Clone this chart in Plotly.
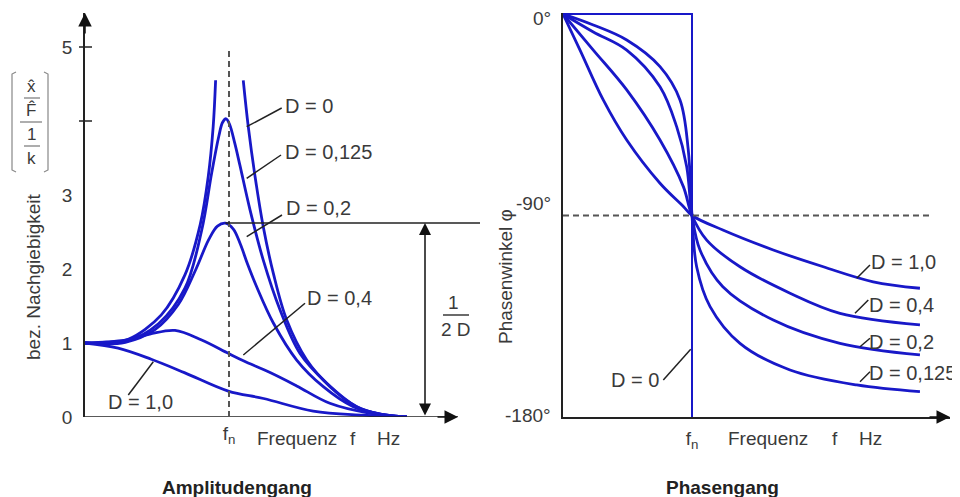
import plotly.graph_objects as go

# ---------------- data (eta = f/fn) ----------------
# Amplitudengang: bez. Nachgiebigkeit V over eta
amp_d0_left_eta = [0.0, 0.15, 0.30, 0.53, 0.694, 0.80, 0.856, 0.89, 0.907]
amp_d0_left_v = [1.0, 1.01, 1.05, 1.38, 1.92, 2.60, 3.25, 3.92, 4.55]
amp_d0_right_eta = [1.099, 1.134, 1.181, 1.238, 1.308, 1.401, 1.540, 1.701, 1.887, 2.049, 2.236]
amp_d0_right_v = [4.55, 3.92, 3.25, 2.57, 1.94, 1.31, 0.77, 0.41, 0.14, 0.04, 0.0]
amp_d0125_eta = [0.0, 0.28, 0.51, 0.694, 0.81, 0.88, 0.93, 0.955, 0.98, 1.005, 1.04, 1.076, 1.146, 1.238, 1.354, 1.493, 1.678, 1.887, 2.05, 2.236]
amp_d0125_v = [1.0, 1.02, 1.26, 1.74, 2.52, 3.30, 3.80, 3.98, 4.03, 3.95, 3.70, 3.40, 2.80, 2.12, 1.45, 0.86, 0.46, 0.14, 0.04, 0.0]
amp_d02_eta = [0.0, 0.28, 0.486, 0.648, 0.764, 0.86, 0.92, 0.975, 1.03, 1.08, 1.13, 1.192, 1.308, 1.47, 1.655, 1.863, 2.05, 2.236]
amp_d02_v = [1.0, 1.01, 1.18, 1.52, 1.97, 2.40, 2.58, 2.62, 2.54, 2.33, 2.06, 1.76, 1.27, 0.77, 0.41, 0.14, 0.04, 0.0]
amp_d04_eta = [0.0, 0.28, 0.45, 0.625, 0.81, 0.995, 1.1, 1.285, 1.47, 1.70, 1.98, 2.236]
amp_d04_v = [1.0, 1.04, 1.12, 1.17, 1.04, 0.86, 0.76, 0.60, 0.42, 0.185, 0.05, 0.0]
amp_d10_eta = [0.0, 0.23, 0.46, 0.69, 0.995, 1.24, 1.585, 1.93, 2.236]
amp_d10_v = [1.0, 0.93, 0.78, 0.60, 0.35, 0.25, 0.08, 0.025, 0.0]

# Phasengang: Phasenwinkel phi (deg) over eta
ph_d0_eta = [0.0, 1.0, 1.0]
ph_d0_phi = [0.0, 0.0, -180.0]
ph_d0125_eta = [0.0, 0.235, 0.494, 0.752, 0.907, 0.971, 1.0, 1.036, 1.14, 1.372, 1.76, 2.277, 2.767]
ph_d0125_phi = [0.0, -4.9, -11.6, -23.5, -38.4, -60.7, -90.0, -112.9, -130.7, -147.1, -159.0, -165.7, -168.7]
ph_d02_eta = [0.0, 0.235, 0.494, 0.752, 0.881, 0.959, 1.0, 1.062, 1.239, 1.63, 2.147, 2.767]
ph_d02_phi = [0.0, -8.0, -16.1, -32.5, -50.3, -68.2, -90.0, -105.4, -121.8, -136.7, -147.1, -152.3]
ph_d04_eta = [0.0, 0.235, 0.494, 0.752, 0.933, 1.0, 1.114, 1.372, 1.76, 2.147, 2.767]
ph_d04_phi = [0.0, -16.1, -33.9, -56.3, -77.1, -90.0, -101.0, -112.9, -124.7, -133.7, -138.9]
ph_d10_eta = [0.0, 0.132, 0.312, 0.494, 0.752, 0.933, 1.0, 1.239, 1.63, 2.018, 2.405, 2.767]
ph_d10_phi = [0.0, -16.1, -38.4, -56.3, -75.6, -86.0, -90.0, -96.5, -105.4, -112.9, -119.6, -122.5]

y_left_tickvals = [0, 1, 2, 3, 5]
y_left_ticktext = ["0", "1", "2", "3", "5"]
y_right_labels = ["0°", "-90°", "-180°"]

# ---------------- layout helpers ----------------
W, H = 960, 497
OFF = 8  # page body margin
def pxx(x):
    return (x - OFF) / W
def pxy(y):
    return 1 - (y - OFF) / H

FONT = "Liberation Sans, Arial, sans-serif"
TXT = "#3a3a3a"
BLUE = "#1818c8"
LW = 2.8
FS = 19

fig = go.Figure()

def curve(x, y, xa, ya, shape="spline", width=LW):
    fig.add_trace(go.Scatter(x=x, y=y, xaxis=xa, yaxis=ya, mode="lines",
                             line=dict(color=BLUE, width=width, shape=shape, smoothing=1.0),
                             hoverinfo="skip", showlegend=False))

for ex, vy in [(amp_d0_left_eta, amp_d0_left_v), (amp_d0_right_eta, amp_d0_right_v),
               (amp_d0125_eta, amp_d0125_v), (amp_d02_eta, amp_d02_v),
               (amp_d04_eta, amp_d04_v), (amp_d10_eta, amp_d10_v)]:
    curve(ex, vy, "x", "y")

curve(ph_d0_eta, ph_d0_phi, "x2", "y2", shape="linear", width=2)
for ex, ph in [(ph_d0125_eta, ph_d0125_phi), (ph_d02_eta, ph_d02_phi),
               (ph_d04_eta, ph_d04_phi), (ph_d10_eta, ph_d10_phi)]:
    curve(ex, ph, "x2", "y2")

# scales (pixels per unit)
L_X0, L_PXU = 85, 144.0
L_Y0, L_PYU = 417, 74.0
R_X0, R_PXU = 563, 129.0
R_Y0, R_PYD = 14, (417 - 14) / 180.0

left_xmax = (480 - L_X0) / L_PXU
left_xarrow = (458 - L_X0) / L_PXU
left_ymax = (L_Y0 - 13) / L_PYU
right_xmax = (950 - R_X0) / R_PXU
right_ytop = (R_Y0 - 13) / R_PYD

axis_common = dict(showgrid=False, zeroline=False, ticks="", automargin=False,
                   tickfont=dict(family=FONT, size=FS, color=TXT))

fig.update_layout(
    width=W, height=H, margin=dict(l=0, r=0, t=0, b=0, autoexpand=False),
    paper_bgcolor="white", plot_bgcolor="white", showlegend=False,
    xaxis=dict(domain=[pxx(85), pxx(480)], range=[0, left_xmax], showline=False,
               tickvals=[1], ticktext=["f<sub>n</sub>"], ticklabelstandoff=3, **axis_common),
    yaxis=dict(domain=[pxy(417), pxy(13)], range=[0, left_ymax], showline=True,
               linecolor="#222", linewidth=1.5, tickvals=y_left_tickvals,
               ticktext=y_left_ticktext, ticklabelstandoff=7, **axis_common),
    xaxis2=dict(domain=[pxx(563), pxx(950)], range=[0, right_xmax], showline=True,
                linecolor="#222", linewidth=1.5, anchor="y2",
                tickvals=[1], ticktext=["f<sub>n</sub>"], ticklabelstandoff=3, **axis_common),
    yaxis2=dict(domain=[pxy(417), pxy(13)], range=[-180, right_ytop], showline=True,
                linecolor="#222", linewidth=1.5, anchor="x2",
                showticklabels=False, **axis_common),
)

shapes = []
ann = []

def line(x0, y0, x1, y1, xref, yref, color="#222", width=1.5, dash=None):
    d = dict(type="line", x0=x0, y0=y0, x1=x1, y1=y1, xref=xref, yref=yref,
             line=dict(color=color, width=width))
    if dash:
        d["line"]["dash"] = dash
    shapes.append(d)

# left x axis line + arrows
line(0, 0, left_xarrow, 0, "x", "y", width=1.5)
ann.append(dict(x=left_xarrow, y=0, xref="x", yref="y", ax=-22, ay=0, text="",
                showarrow=True, arrowhead=2, arrowsize=1.8, arrowwidth=1.5, arrowcolor="#111"))
ann.append(dict(x=0, y=left_ymax, xref="x", yref="y", ax=0, ay=22, text="",
                showarrow=True, arrowhead=2, arrowsize=1.8, arrowwidth=1.5, arrowcolor="#111"))
ann.append(dict(x=right_xmax, y=-180, xref="x2", yref="y2", ax=-22, ay=0, text="",
                showarrow=True, arrowhead=2, arrowsize=1.8, arrowwidth=1.5, arrowcolor="#111"))

# tick marks at 4 and 5 on left y axis
for v in [4, 5]:
    line(pxx(79), v, pxx(92), v, "paper", "y", width=1.5)

# dashed resonance line (left)
line(1, 0, 1, 5.0, "x", "y", color="#555", width=2, dash="6px,4px")
# dashed -90 line (right)
line(0, -90, (930 - R_X0) / R_PXU, -90, "x2", "y2", color="#555", width=2, dash="6px,4px")

# 1/(2D) marker from D=0.2 peak
pk = max(amp_d02_v)
pk_eta = amp_d02_eta[amp_d02_v.index(pk)]
line(pk_eta, pk, left_xmax, pk, "x", "y", width=1.5)
arr_eta = (425 - L_X0) / L_PXU
ann.append(dict(x=arr_eta, y=pk, ax=arr_eta, ay=0, xref="x", yref="y", axref="x", ayref="y",
                text="", showarrow=True, arrowhead=2, startarrowhead=2, arrowside="end+start",
                arrowsize=1.6, startarrowsize=1.6, arrowwidth=1.5, arrowcolor="#111"))

def t(x, y, s, xref="paper", yref="paper", xanchor="center", size=FS, angle=0, bold=False):
    ann.append(dict(x=x, y=y, xref=xref, yref=yref, text=("<b>%s</b>" % s) if bold else s,
                    showarrow=False, xanchor=xanchor, yanchor="middle", textangle=angle,
                    font=dict(family=FONT, size=size, color="#222" if bold else TXT)))

# right y tick labels (positioned like the picture)
for s, yy in zip(y_right_labels, [18, 203, 415]):
    t(pxx(553), pxy(yy), s, xanchor="right")

# fraction 1 / 2D
t(pxx(453), pxy(302), "1")
line(pxx(443), pxy(315), pxx(469), pxy(315), "paper", "paper", color=TXT, width=1.5)
t(pxx(456), pxy(329), "2 D")

# titles
t(pxx(237), pxy(487), "Amplitudengang", bold=True)
t(pxx(722), pxy(487), "Phasengang", bold=True)

# x axis texts
for xx, s in [(297, "Frequenz"), (353, "f"), (388, "Hz"), (768, "Frequenz"), (835, "f"), (870, "Hz")]:
    t(pxx(xx), pxy(438), s)

# y titles
t(pxx(33), pxy(277), "bez. Nachgiebigkeit", angle=-90)
t(pxx(505), pxy(277), "Phasenwinkel φ", angle=-90)

# normalized compliance bracket  [ x̂/F̂ / 1/k ]
for yy, s in [(86, "x̂"), (110, "F̂"), (134, "1"), (158, "k")]:
    t(pxx(31), pxy(yy), s, size=17)
for yy, x0, x1 in [(98, 24, 40), (122, 20, 42), (146, 24, 40)]:
    line(pxx(x0), pxy(yy), pxx(x1), pxy(yy), "paper", "paper", color="#777", width=1.2)
for xa, xb in [(16, 12), (44, 48)]:
    shapes.append(dict(type="path", xref="paper", yref="paper",
                       path="M %f %f L %f %f L %f %f L %f %f" % (
                           pxx(xa), pxy(72), pxx(xb), pxy(74), pxx(xb), pxy(170), pxx(xa), pxy(172)),
                       line=dict(color="#888", width=1.2)))

# D labels (data coords derived from picture positions)
def lx(p):
    return (p - L_X0) / L_PXU
def ly(p):
    return (L_Y0 - p) / L_PYU
def rx(p):
    return (p - R_X0) / R_PXU
def ry(p):
    return -(p - R_Y0) / R_PYD

left_labels = [
    ("D = 0", 283, 106, (246.7, 126.7), (281.7, 108)),
    ("D = 0,125", 283, 152, (246.7, 178.3), (281, 155)),
    ("D = 0,2", 284, 208, (246.7, 236.7), (282, 215)),
    ("D = 0,4", 305, 298, (243.3, 355), (305, 303.3)),
    ("D = 1,0", 106, 402, (128.3, 395), (153.3, 361.7)),
]
for s, tx, ty, p0, p1 in left_labels:
    t(lx(tx), ly(ty), s, xref="x", yref="y", xanchor="left", size=20)
    line(lx(p0[0]), ly(p0[1]), lx(p1[0]), ly(p1[1]), "x", "y", width=1.5)

right_labels = [
    ("D = 1,0", 869, 262, (856.7, 278.3), (870, 265), "left"),
    ("D = 0,4", 867, 305, (855, 313.3), (868.3, 300), "left"),
    ("D = 0,2", 867, 342, (860, 346.7), (870, 338.3), "left"),
    ("D = 0,125", 867, 373, (860, 381.7), (870, 371.7), "left"),
    ("D = 0", 661, 380, (663.3, 380), (690.7, 349.3), "right"),
]
for s, tx, ty, p0, p1, anc in right_labels:
    t(rx(tx), ry(ty), s, xref="x2", yref="y2", xanchor=anc, size=20)
    line(rx(p0[0]), ry(p0[1]), rx(p1[0]), ry(p1[1]), "x2", "y2", width=1.5)

fig.update_layout(shapes=shapes, annotations=ann)
fig.write_html("out.html")
